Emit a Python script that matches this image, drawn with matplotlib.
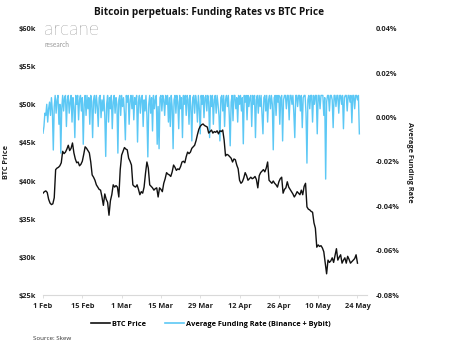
import matplotlib
matplotlib.use("Agg")
import matplotlib.pyplot as plt
import matplotlib.dates as mdates
import pandas as pd

# BTC price (thousand USD), 12-hourly from 1 Feb 2022
btc_k = [
    38.4, 38.6, 38.7, 38.5, 37.6, 37.1, 36.9, 37.0, 37.8, 41.5,
    41.7, 41.8, 42.0, 42.4, 43.9, 43.6, 43.8, 44.2, 44.7, 44.0,
    44.3, 45.0, 43.7, 42.9, 42.4, 42.5, 42.0, 42.2, 42.6, 43.5,
    44.5, 44.3, 44.0, 43.7, 42.5, 40.8, 40.5, 40.1, 39.5, 39.2,
    38.9, 38.8, 37.9, 36.8, 38.3, 37.6, 37.2, 35.5, 37.4, 38.2,
    39.5, 39.2, 39.4, 39.2, 37.9, 41.5, 43.4, 43.9, 44.4, 44.2,
    44.1, 43.0, 42.6, 42.1, 39.5, 39.3, 39.2, 39.5, 38.9, 38.2,
    38.6, 38.4, 39.2, 41.0, 42.5, 41.7, 39.5, 39.3, 39.1, 38.8,
    39.0, 39.1, 37.9, 39.1, 38.9, 38.6, 39.7, 40.3, 41.1, 40.9,
    40.8, 40.6, 41.2, 42.1, 41.8, 41.4, 41.6, 41.5, 41.9, 42.5,
    42.6, 42.4, 43.2, 43.8, 43.6, 43.8, 44.3, 44.5, 44.7, 45.3,
    46.1, 46.8, 47.2, 47.4, 47.5, 47.3, 47.2, 47.1, 46.3, 46.5,
    46.7, 46.3, 46.5, 46.4, 46.6, 46.2, 46.6, 46.5, 46.7, 45.4,
    43.3, 43.5, 43.4, 43.2, 43.0, 42.5, 42.9, 42.8, 42.1, 41.6,
    40.1, 39.7, 39.9, 40.4, 41.1, 40.7, 40.1, 40.3, 40.5, 40.3,
    40.4, 40.6, 40.2, 39.1, 40.7, 41.1, 41.3, 41.5, 41.2, 41.7,
    42.5, 40.1, 39.9, 39.7, 40.0, 39.7, 39.5, 39.2, 39.9, 40.3,
    40.5, 38.4, 38.9, 39.1, 39.9, 39.2, 38.9, 38.6, 38.3, 37.9,
    38.2, 38.6, 38.4, 38.2, 38.8, 38.2, 39.3, 39.7, 36.6, 36.3,
    36.2, 36.0, 35.9, 34.5, 33.8, 31.3, 31.6, 31.4, 31.5, 31.2,
    30.7, 29.2, 27.8, 29.6, 29.3, 29.5, 29.9, 29.3, 30.2, 31.1,
    29.6, 30.0, 30.3, 29.2, 29.6, 29.9, 29.2, 30.1, 29.7, 29.2,
    29.4, 29.6, 29.8, 30.3, 29.2,
]

# average funding rate (%), 8-hourly from 1 Feb 2022
funding_pct = [
    -0.007, -0.004, 0.002, 0.001, 0.006, -0.002, 0.004, 0.007, 0.001, 0.009,
    0.003, -0.0146, 0.005, 0.010, 0.002, 0.008, 0.010, -0.003, 0.006, -0.016,
    0.004,
    0.010, 0.003, 0.009, 0.010, -0.004, 0.008, 0.010, 0.002, 0.007, 0.010,
    -0.002, 0.009, 0.005, -0.009, 0.010, 0.006, 0.010, -0.001, 0.008, 0.010,
    0.003,
    0.009, -0.012, 0.006, 0.010, 0.001, 0.010, 0.004, 0.009, -0.003, 0.010,
    0.007, -0.009, 0.008, 0.010, 0.002, 0.010, 0.005, -0.004, 0.009, 0.010,
    0.000,
    0.008, 0.003, 0.010, 0.001, -0.0175, 0.006, 0.010, -0.002, 0.009, 0.004,
    0.010, -0.005, 0.007, 0.010, 0.002, 0.009, 0.006, -0.016, 0.008, 0.010,
    0.001,
    0.010, 0.005, 0.009, 0.002, -0.010, 0.010, 0.007, 0.010, -0.003, 0.008,
    0.010, 0.004, 0.010, -0.001, 0.009, 0.006, 0.010, -0.011, 0.007, 0.010,
    0.002,
    0.009, 0.010, -0.004, 0.008, 0.003, 0.010, 0.001, -0.0177, 0.006, 0.010,
    0.002, 0.009, -0.006, 0.010, 0.004, 0.008, 0.010, -0.012, 0.005, -0.014,
    0.009,
    0.010, 0.003, 0.010, 0.008, 0.001, 0.010, 0.006, 0.010, -0.002, 0.009,
    -0.004, 0.010, 0.005, -0.014, 0.008, 0.010, 0.002, 0.010, 0.007, -0.005,
    0.010,
    0.004, 0.009, -0.009, 0.010, 0.006, 0.010, 0.001, 0.010, 0.008, -0.003,
    0.010, 0.005, -0.0105, 0.009, 0.010, 0.002, 0.010, 0.007, -0.002, 0.010,
    0.004,
    -0.0073, 0.010, 0.006, 0.010, 0.000, 0.009, 0.010, 0.003, 0.010, 0.007,
    -0.009, 0.010, 0.005, 0.010, -0.003, 0.008, 0.010, 0.002, 0.010, 0.006,
    0.001,
    -0.0105, 0.009, 0.010, 0.003, 0.010, -0.004, 0.008, 0.010, 0.005, 0.010,
    0.001, -0.0127, 0.007, 0.010, -0.0014, 0.010, 0.010, 0.004, 0.009, -0.002,
    0.010,
    0.006, 0.010, 0.003, 0.009, -0.0118, 0.010, 0.007, 0.010, -0.001, 0.010,
    0.005, 0.009, 0.010, -0.004, 0.010, 0.006, 0.010, -0.009, 0.008, 0.010,
    0.002,
    0.010, 0.005, 0.010, 0.001, -0.0073, 0.009, 0.010, 0.003, 0.010, -0.002,
    0.008, 0.010, 0.004, 0.010, 0.006, -0.0145, 0.009, 0.010, 0.001, 0.010,
    0.007,
    0.010, -0.003, 0.009, 0.010, -0.0105, 0.008, 0.010, 0.010, 0.004, 0.010,
    0.010, -0.001, 0.010, 0.010, 0.006, 0.010, 0.002, -0.009, 0.010, 0.010,
    0.005,
    0.010, 0.010, 0.003, 0.010, -0.0045, 0.009, 0.010, 0.010, 0.002, -0.0205,
    0.008, 0.010, 0.004, 0.010, 0.010, -0.002, 0.010, 0.006, 0.010, 0.010,
    -0.0073,
    0.010, 0.010, 0.004, 0.010, 0.010, 0.010, 0.001, 0.009, -0.0277, 0.007,
    0.010, 0.010, 0.003, 0.010, 0.010, 0.008, -0.0045, 0.010, 0.010, 0.005,
    0.010,
    0.010, 0.002, 0.010, 0.010, 0.006, 0.010, -0.005, 0.009, 0.010, 0.010,
    0.003, 0.010, 0.010, 0.007, 0.010, -0.0023, 0.010, 0.010, 0.004, 0.010,
    0.010,
    0.008, 0.010, -0.0073,
]

price_ticks = [25, 30, 35, 40, 45, 50, 55, 60]
rate_ticks = [-0.08, -0.06, -0.04, -0.02, 0.00, 0.02, 0.04]
date_ticks = ["2022-02-01", "2022-02-15", "2022-03-01", "2022-03-15", "2022-03-29",
              "2022-04-12", "2022-04-26", "2022-05-10", "2022-05-24"]

FONT = "Open Sans"
BLUE = "#5cc8f5"
GREY = "#d9d9d9"

btc_t = pd.date_range("2022-02-01", periods=len(btc_k), freq="12h")
fund_t = pd.date_range("2022-02-01", periods=len(funding_pct), freq="8h")

plt.rcParams["font.family"] = [FONT, "DejaVu Sans"]

fig = plt.figure(figsize=(4.6, 3.48), dpi=100)
ax = fig.add_axes([0.0935, 0.152, 0.7045, 0.765])
ax2 = ax.twinx()
ax.set_zorder(ax2.get_zorder() + 1)
ax.patch.set_visible(False)

ax2.plot(fund_t, funding_pct, color=BLUE, lw=1.0)
ax.plot(btc_t, [v * 1000 for v in btc_k], color="#111111", lw=1.0)

ax.set_ylim(25000, 60000)
ax2.set_ylim(-0.08, 0.04)
ax.set_xlim(pd.Timestamp("2022-02-01"), pd.Timestamp("2022-05-27 10:00"))

ax.set_yticks([v * 1000 for v in price_ticks])
ax.set_yticklabels([f"${v}k" for v in price_ticks])
ax2.set_yticks(rate_ticks)
ax2.set_yticklabels([f"{v:.2f}%".replace("-0.00", "0.00") for v in rate_ticks])
ax.set_xticks([pd.Timestamp(d) for d in date_ticks])
ax.xaxis.set_major_formatter(mdates.DateFormatter("%-d %b"))

for a in (ax, ax2):
    for s in ("top", "left", "right"):
        a.spines[s].set_visible(False)
    a.spines["bottom"].set_color(GREY)
    a.spines["bottom"].set_linewidth(0.8)
ax2.spines["bottom"].set_visible(False)

tick_kw = dict(labelsize=5.3, colors="#222222")
ax.tick_params(axis="y", length=0, pad=5, **tick_kw)
ax2.tick_params(axis="y", length=0, pad=6, **tick_kw)
ax.tick_params(axis="x", length=2.5, width=0.6, color=GREY, labelcolor="#222222",
               labelsize=5.3, pad=3)
for lab in ax.get_xticklabels() + ax.get_yticklabels() + ax2.get_yticklabels():
    lab.set_fontweight("bold")

ax.set_ylabel("BTC Price", fontsize=5.3, fontweight="bold", color="#222222", labelpad=6)
ax2.set_ylabel("Average Funding Rate", fontsize=5.3, fontweight="bold", color="#222222",
               rotation=-90, labelpad=10)

fig.text(0.455, 0.965, "Bitcoin perpetuals: Funding Rates vs BTC Price",
         ha="center", va="center", fontsize=7.2, fontweight="bold", color="#111111")

# logo
fig.text(0.095, 0.899, "arcane", fontsize=14, fontweight="light", color="#4a4a4a",
         ha="left", va="baseline", family="Lato")
fig.text(0.097, 0.864, "research", fontsize=4.8, color="#9a9a9a", ha="left", va="baseline",
         family="Lato")

handles = [
    plt.Line2D([], [], color="#111111", lw=1.2),
    plt.Line2D([], [], color=BLUE, lw=1.2),
]
fig.legend(handles, ["BTC Price", "Average Funding Rate (Binance + Bybit)"],
           loc="center", bbox_to_anchor=(0.458, 0.068), ncol=2, frameon=False,
           prop=dict(family=FONT, size=5.3, weight="bold"), handlelength=2.6,
           handletextpad=0.2, columnspacing=2.6)

fig.text(0.072, 0.028, "Source: Skew", fontsize=4.5, color="#333333", ha="left", va="center")

fig.savefig("out.png", dpi=100)
